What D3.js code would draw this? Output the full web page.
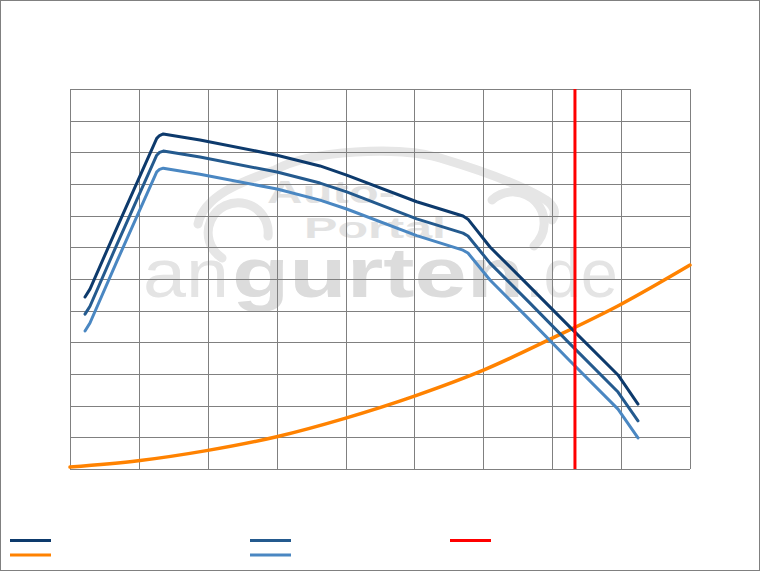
<!DOCTYPE html>
<html>
<head>
<meta charset="utf-8">
<script src="https://cdn.jsdelivr.net/npm/d3@7"></script>
<style>
  html, body { margin: 0; padding: 0; background: #fff; }
  svg { display: block; }
</style>
</head>
<body>
<svg id="chart" width="760" height="571"></svg>
<script>
// ---- data (x in grid units 0..9, y in grid units 0..12) ----
const xTicks = [0, 1, 2, 3, 4, 5, 6, 7, 8, 9];
const yTicks = [0, 1, 2, 3, 4, 5, 6, 7, 8, 9, 10, 11, 12];

const xDark   = [0.218, 0.290, 0.677, 1.259, 1.300, 1.354, 1.887, 3.005, 3.629, 4.016, 5.033, 5.705, 5.777, 6.097, 6.677, 7.258, 7.955, 8.245];
const yDark   = [5.43,  5.68,  7.60,  10.44, 10.53, 10.58, 10.39, 9.91,  9.57,  9.28,  8.44,  7.99,  7.89,  7.01,  5.75,  4.48,  2.97,  2.05];

const xMid    = [0.218, 0.290, 0.677, 1.259, 1.300, 1.354, 1.887, 3.005, 3.629, 4.016, 5.033, 5.705, 5.777, 6.097, 6.677, 7.258, 7.955, 8.245];
const yMid    = [4.89,  5.14,  7.07,  9.91,  10.00, 10.04, 9.85,  9.38,  9.03,  8.75,  7.90,  7.45,  7.36,  6.50,  5.24,  3.95,  2.43,  1.52];

const xLight  = [0.218, 0.290, 0.677, 1.259, 1.300, 1.354, 1.887, 3.005, 3.629, 4.016, 5.033, 5.705, 5.777, 6.097, 6.677, 7.258, 7.955, 8.245];
const yLight  = [4.36,  4.61,  6.54,  9.38,  9.46,  9.50,  9.31,  8.84,  8.49,  8.21,  7.37,  6.91,  6.82,  5.97,  4.70,  3.41,  1.89,  0.98];

const xOrange = [0.0,  0.99, 1.98, 3.0,  3.99, 5.01, 6.01, 7.01, 7.98, 9.0];
const yOrange = [0.06, 0.26, 0.58, 1.02, 1.60, 2.31, 3.13, 4.14, 5.18, 6.44];

const redX = 7.33;

const colors = { dark: "#0d3a6c", mid: "#245a8e", light: "#4a87c2", orange: "#ff8200", red: "#ff0000" };

// ---- drawing ----
const svg = d3.select("#chart");
const W = 760, H = 571;
const plot = { left: 70, right: 690, top: 89, bottom: 469 };

const x = d3.scaleLinear().domain([0, 9]).range([plot.left, plot.right]);
const y = d3.scaleLinear().domain([0, 12]).range([plot.bottom, plot.top]);

// outer border
svg.append("rect").attr("x", 0.5).attr("y", 0.5).attr("width", W - 1).attr("height", H - 1)
  .attr("fill", "#fff").attr("stroke", "#808080").attr("stroke-width", 1);

// watermark
const wm = svg.append("g").attr("class", "watermark");
wm.append("path")
  .attr("d", "M 198,224 C 204,196 240,182 275,170 C 310,150 400,146 440,158 C 480,170 520,184 546,200 C 556,207 556,214 552,220")
  .attr("fill", "none").attr("stroke", "#e6e6e6").attr("stroke-width", 9).attr("stroke-linecap", "round");
wm.append("path")
  .attr("d", "M 222,258 A 30 30 0 1 1 268,236")
  .attr("fill", "none").attr("stroke", "#e6e6e6").attr("stroke-width", 9).attr("stroke-linecap", "round");
wm.append("path")
  .attr("d", "M 492,200 A 27 27 0 0 1 534,246")
  .attr("fill", "none").attr("stroke", "#e6e6e6").attr("stroke-width", 9).attr("stroke-linecap", "round");
wm.append("text").attr("x", 267).attr("y", 203).text("Auto-")
  .attr("font-family", "Liberation Sans, Arial, sans-serif").attr("font-weight", "bold")
  .attr("font-size", 32).attr("fill", "#e2e2e2")
  .attr("textLength", 128).attr("lengthAdjust", "spacingAndGlyphs");
wm.append("text").attr("x", 304).attr("y", 238).text("Portal")
  .attr("font-family", "Liberation Sans, Arial, sans-serif").attr("font-weight", "bold")
  .attr("font-size", 30).attr("fill", "#e2e2e2")
  .attr("textLength", 142).attr("lengthAdjust", "spacingAndGlyphs");
wm.append("text").attr("x", 143).attr("y", 297).text("an")
  .attr("font-family", "Liberation Sans, Arial, sans-serif")
  .attr("font-size", 68).attr("fill", "#e4e4e4")
  .attr("textLength", 86).attr("lengthAdjust", "spacingAndGlyphs");
wm.append("text").attr("x", 232).attr("y", 297).text("gurten")
  .attr("font-family", "Liberation Sans, Arial, sans-serif").attr("font-weight", "bold")
  .attr("font-size", 70).attr("fill", "#dcdcdc")
  .attr("textLength", 292).attr("lengthAdjust", "spacingAndGlyphs");
wm.append("text").attr("x", 525).attr("y", 297).text(".de")
  .attr("font-family", "Liberation Sans, Arial, sans-serif")
  .attr("font-size", 68).attr("fill", "#e4e4e4")
  .attr("textLength", 93).attr("lengthAdjust", "spacingAndGlyphs");

// grid via axes
const gridX = svg.append("g").attr("transform", `translate(0,${plot.bottom})`)
  .call(d3.axisBottom(x).tickValues(xTicks).tickSize(-(plot.bottom - plot.top)).tickFormat(""));
const gridY = svg.append("g").attr("transform", `translate(${plot.left},0)`)
  .call(d3.axisLeft(y).tickValues(yTicks).tickSize(-(plot.right - plot.left)).tickFormat(""));
[gridX, gridY].forEach(g => {
  g.select(".domain").remove();
  g.selectAll(".tick line").attr("stroke", "#808080").attr("stroke-width", 1)
    .attr("shape-rendering", "crispEdges");
});

// lines
const line = d3.line().x(d => x(d[0])).y(d => y(d[1])).curve(d3.curveLinear);
const smooth = d3.line().x(d => x(d[0])).y(d => y(d[1])).curve(d3.curveMonotoneX);
const zip = (xs, ys) => xs.map((v, i) => [v, ys[i]]);

const series = [
  { data: zip(xOrange, yOrange), color: colors.orange, w: 3.5, gen: smooth },
  { data: zip(xLight, yLight), color: colors.light, w: 3, gen: line },
  { data: zip(xMid, yMid), color: colors.mid, w: 3, gen: line },
  { data: zip(xDark, yDark), color: colors.dark, w: 3, gen: line }
];
series.forEach(s => {
  svg.append("path").datum(s.data).attr("d", s.gen)
    .attr("fill", "none").attr("stroke", s.color).attr("stroke-width", s.w)
    .attr("stroke-linejoin", "round").attr("stroke-linecap", "round");
});

// red vertical marker
svg.append("line")
  .attr("x1", x(redX)).attr("x2", x(redX)).attr("y1", y(12)).attr("y2", y(0))
  .attr("stroke", colors.red).attr("stroke-width", 3);

// legend (swatches only, no labels in the reference)
const legendItems = [
  { color: colors.dark, x: 10, y: 540.5 },
  { color: colors.mid, x: 250, y: 540.5 },
  { color: colors.red, x: 450, y: 540.5 },
  { color: colors.orange, x: 10, y: 555 },
  { color: colors.light, x: 250, y: 555 }
];
svg.append("g").selectAll("line").data(legendItems).join("line")
  .attr("x1", d => d.x).attr("x2", d => d.x + 41)
  .attr("y1", d => d.y).attr("y2", d => d.y)
  .attr("stroke", d => d.color).attr("stroke-width", 3);
</script>
</body>
</html>
